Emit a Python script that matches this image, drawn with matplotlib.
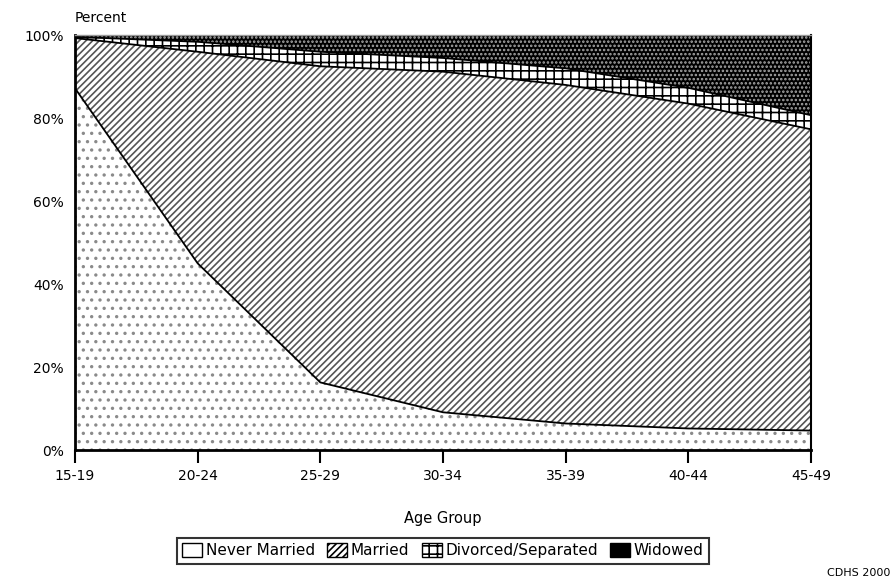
import numpy as np
import matplotlib
matplotlib.use("Agg")
import matplotlib.pyplot as plt
from matplotlib.patches import Patch

# Datos (porcentaje por grupo de edad)
age_groups = ['15-19', '20-24', '25-29', '30-34', '35-39', '40-44', '45-49']
never_married = [87.2, 45.0, 16.3, 9.1, 6.4, 5.2, 4.7]
married = [12.1, 51.0, 76.2, 82.1, 81.6, 78.3, 72.6]
divorced = [0.3, 2.4, 3.5, 3.3, 4.0, 3.8, 3.4]
widowed = [0.4, 1.6, 4.0, 5.5, 8.0, 12.7, 19.3]
y_ticks = [0, 20, 40, 60, 80, 100]

plt.rcParams['font.family'] = ['DejaVu Sans']
plt.rcParams['hatch.linewidth'] = 1.2

fig = plt.figure(figsize=(8.95, 5.86), dpi=100)
ax = fig.add_axes([0.0838, 0.232, 0.8224, 0.708])

x = np.arange(len(age_groups))
c1 = np.array(never_married)
c2 = c1 + np.array(married)
c3 = c2 + np.array(divorced)
c4 = 100 * np.ones_like(c3)  # la ultima capa cierra en 100%

ax.fill_between(x, 0, c1, facecolor='white', edgecolor='#8a8a8a', hatch='..', linewidth=0)
ax.fill_between(x, c1, c2, facecolor='white', edgecolor='#555555', hatch='/////', linewidth=0)
ax.fill_between(x, c2, c3, facecolor='white', edgecolor='black', hatch='++', linewidth=0)
ax.fill_between(x, c3, c4, facecolor='black', edgecolor='#a8a8a8', hatch='....', linewidth=0)

for c in (c1, c2, c3):
    ax.plot(x, c, color='black', linewidth=1.3)

ax.set_xlim(0, len(age_groups) - 1)
ax.set_ylim(0, 100)
ax.set_xticks(x)
ax.set_xticklabels(age_groups, fontsize=10)
ax.set_yticks(y_ticks)
ax.set_yticklabels([f'{v}%' for v in y_ticks], fontsize=10)
ax.tick_params(axis='x', direction='out', length=9, width=1.5, pad=5)
ax.tick_params(axis='y', length=0, pad=8)

for side in ('left', 'bottom'):
    ax.spines[side].set_linewidth(2)
ax.spines['right'].set_linewidth(1.5)
ax.spines['top'].set_color('#999999')
ax.spines['top'].set_linewidth(1)

ax.text(0, 1.025, 'Percent', transform=ax.transAxes, fontsize=10, ha='left', va='bottom')
ax.set_xlabel('Age Group', fontsize=10.5, labelpad=20)

handles = [
    Patch(facecolor='white', edgecolor='black', label='Never Married'),
    Patch(facecolor='white', edgecolor='black', hatch='/////', label='Married'),
    Patch(facecolor='white', edgecolor='black', hatch='++', label='Divorced/Separated'),
    Patch(facecolor='black', edgecolor='black', hatch='....', label='Widowed'),
]
leg = fig.legend(handles=handles, loc='center', bbox_to_anchor=(0.495, 0.06), ncol=4,
                 fontsize=11, frameon=True, fancybox=False, edgecolor='black',
                 handlelength=1.3, handleheight=1.0, handletextpad=0.25,
                 columnspacing=0.8, borderpad=0.35, borderaxespad=0)
leg.get_frame().set_linewidth(1.5)

fig.text(0.995, 0.013, 'CDHS 2000', fontsize=8, ha='right', va='bottom')

fig.savefig('out.png', dpi=100)
